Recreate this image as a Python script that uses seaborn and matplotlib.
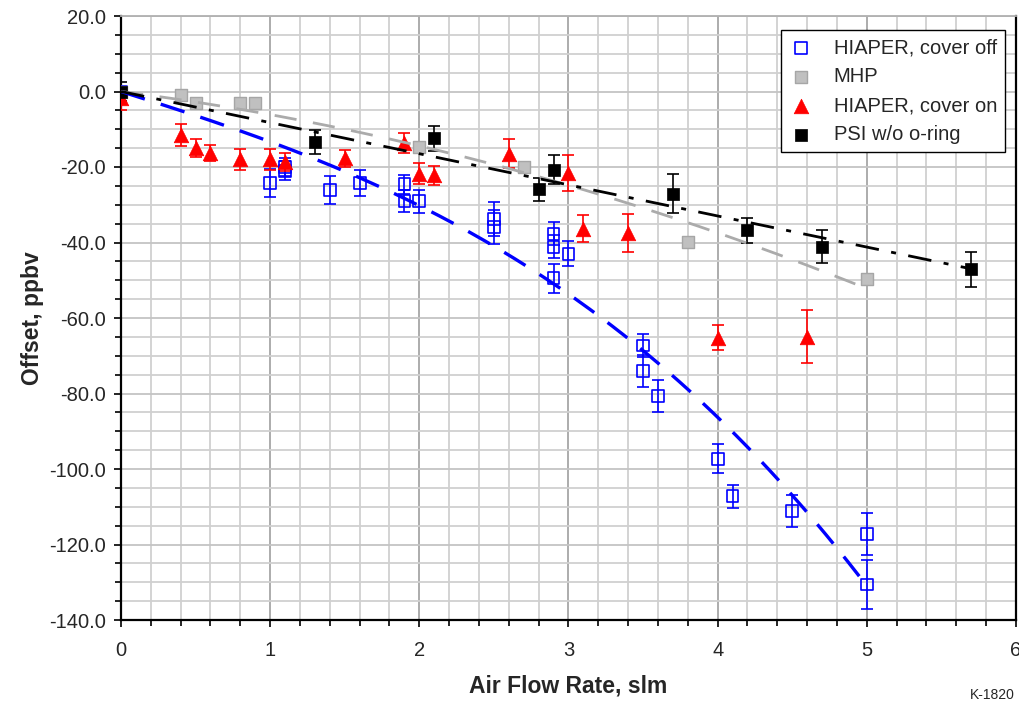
import numpy as np
import pandas as pd
import seaborn as sns
import matplotlib
matplotlib.use("Agg")
import matplotlib.pyplot as plt
from matplotlib.ticker import MultipleLocator, FormatStrFormatter

# --- data ---
# HIAPER, cover off (open blue squares)
off_flow = [0.0, 1.0, 1.1, 1.1, 1.4, 1.6, 1.9, 1.9, 2.0, 2.5, 2.5, 2.9, 2.9, 2.9,
            3.0, 3.5, 3.5, 3.6, 4.0, 4.1, 4.5, 5.0, 5.0]
off_offset = [0.0, -24.2, -20.0, -21.0, -26.1, -24.2, -24.6, -29.0, -29.1, -33.8, -35.9,
              -37.7, -41.1, -49.5, -43.0, -67.3, -74.1, -80.6, -97.3, -107.2, -111.1,
              -117.2, -130.6]
off_err = [0.0, 3.7, 2.5, 2.5, 3.7, 3.5, 2.5, 3.0, 3.0, 4.5, 4.5, 3.0, 3.0, 3.8,
           3.3, 3.0, 4.2, 4.2, 3.8, 3.0, 4.2, 5.6, 6.4]

# MHP (grey squares, no error bars)
mhp_flow = [0.0, 0.4, 0.5, 0.8, 0.9, 2.0, 2.7, 3.8, 5.0]
mhp_offset = [0.0, -1.0, -3.0, -3.1, -3.1, -14.8, -19.9, -39.8, -49.8]

# HIAPER, cover on (red triangles)
on_flow = [0.0, 0.4, 0.5, 0.6, 0.8, 1.0, 1.1, 1.5, 1.9, 2.0, 2.1, 2.6, 3.0, 3.1, 3.4, 4.0, 4.6]
on_offset = [-1.8, -11.5, -15.0, -16.3, -18.0, -18.0, -18.7, -17.7, -13.7, -21.8, -22.2,
             -16.5, -21.5, -36.3, -37.5, -65.2, -65.0]
on_err = [3.0, 3.0, 2.4, 2.0, 2.9, 2.7, 2.4, 2.2, 2.7, 2.8, 2.5, 3.8, 4.8, 3.6, 5.0, 3.3, 7.0]

# PSI w/o o-ring (black squares)
psi_flow = [0.0, 1.3, 2.1, 2.8, 2.9, 3.7, 4.2, 4.7, 5.7]
psi_offset = [0.0, -13.3, -12.4, -25.9, -20.7, -27.1, -36.8, -41.1, -47.1]
psi_err = [2.5, 3.2, 3.3, 3.0, 3.8, 5.2, 3.4, 4.3, 4.6]

x_ticks = [0, 1, 2, 3, 4, 5, 6]
y_ticks = [20, 0, -20, -40, -60, -80, -100, -120, -140]

sns.set_style("white")
plt.rcParams["font.family"] = ["Liberation Sans", "DejaVu Sans"]
plt.rcParams["axes.unicode_minus"] = False

fig = plt.figure(figsize=(10.2, 7.03), dpi=100)
ax = fig.add_axes([121 / 1020, 1 - 620 / 703, 895 / 1020, 604 / 703])

blue = "#0000ff"
red = "#ff0000"
grey_fill = "#c0c0c0"
grey_edge = "#a6a6a6"

# error bars (drawn under the markers)
for xs, ys, es, col in [(off_flow, off_offset, off_err, blue),
                        (on_flow, on_offset, on_err, red),
                        (psi_flow, psi_offset, psi_err, "black")]:
    ax.errorbar(xs, ys, yerr=es, fmt="none", ecolor=col,
                elinewidth=1.2, capsize=4.3, capthick=1.2, zorder=3)

# markers
sns.scatterplot(x=off_flow, y=off_offset, marker="s", s=72, facecolor="none",
                edgecolor=blue, linewidth=1.2, label="HIAPER, cover off", ax=ax, zorder=4)
sns.scatterplot(x=mhp_flow, y=mhp_offset, marker="s", s=80, facecolor=grey_fill,
                edgecolor=grey_edge, linewidth=1.0, label="MHP", ax=ax, zorder=4)
sns.scatterplot(x=on_flow, y=on_offset, marker="^", s=110, facecolor=red,
                edgecolor=red, linewidth=0.5, label="HIAPER, cover on", ax=ax, zorder=4)
sns.scatterplot(x=psi_flow, y=psi_offset, marker="s", s=80, facecolor="black",
                edgecolor="black", linewidth=0.5, label="PSI w/o o-ring", ax=ax, zorder=4)


# trend lines: least-squares polynomial through the origin
def trend(xs, ys, deg):
    xs = np.asarray(xs, float)
    A = np.column_stack([xs ** k for k in range(1, deg + 1)])
    coef = np.linalg.lstsq(A, np.asarray(ys, float), rcond=None)[0]
    fx = np.linspace(xs.min(), xs.max(), 200)
    return fx, sum(c * fx ** (k + 1) for k, c in enumerate(coef))


fx, fy = trend(off_flow, off_offset, 3)
sns.lineplot(x=fx, y=fy, color=blue, linewidth=2.4, ax=ax, zorder=5,
             legend=False).lines[-1].set_dashes((7.5, 5))
fx, fy = trend(mhp_flow, mhp_offset, 2)
sns.lineplot(x=fx, y=fy, color="#ababab", linewidth=2.0, ax=ax, zorder=5,
             legend=False).lines[-1].set_dashes((8, 6))
fx, fy = trend(psi_flow, psi_offset, 1)
sns.lineplot(x=fx, y=fy, color="black", linewidth=2.0, ax=ax, zorder=5,
             legend=False).lines[-1].set_dashes((8.5, 4.5, 1.8, 4.5))

# axes
ax.set_xlim(0, 6)
ax.set_ylim(-140, 20)
ax.set_xticks(x_ticks)
ax.set_yticks(y_ticks)
ax.xaxis.set_minor_locator(MultipleLocator(0.2))
ax.yaxis.set_minor_locator(MultipleLocator(5))
ax.yaxis.set_major_formatter(FormatStrFormatter("%.1f"))
ax.grid(which="minor", color="#d0d0d0", linewidth=1.3, zorder=0)
ax.grid(which="major", axis="y", color="#c4c4c4", linewidth=1.3, zorder=0)
ax.grid(which="major", axis="x", color="#a6a6a6", linewidth=1.3, zorder=0)
ax.set_axisbelow(True)

for side in ["left", "bottom", "right"]:
    ax.spines[side].set_color("black")
    ax.spines[side].set_linewidth(1.6)
ax.spines["top"].set_color("#b0b0b0")
ax.spines["top"].set_linewidth(1.3)

ax.tick_params(which="both", direction="out", color="black", width=1.2,
               left=True, bottom=True, labelsize=14.5)
ax.tick_params(which="major", length=5)
ax.tick_params(which="minor", length=4)
ax.tick_params(axis="x", which="major", pad=10)
ax.tick_params(axis="y", which="major", pad=6)

ax.set_xlabel("Air Flow Rate, slm", fontsize=16.5, fontweight="bold")
ax.set_ylabel("Offset, ppbv", fontsize=16.5, fontweight="bold")
ax.xaxis.set_label_coords(0.5, -0.09)
ax.yaxis.set_label_coords(-0.086, 0.5)

leg = ax.legend(loc="upper right", bbox_to_anchor=((1005 - 121) / 895, (620 - 30) / 604),
                fontsize=14.5, frameon=True, fancybox=False, framealpha=1,
                edgecolor="black", borderpad=0.4, labelspacing=0.5, handletextpad=1.0,
                handlelength=1.2, borderaxespad=0)
leg.get_frame().set_linewidth(1.0)

fig.text(1015 / 1020, 1 - 695 / 703, "K-1820", ha="right", va="center", fontsize=10)

fig.savefig("out.png", dpi=100)
